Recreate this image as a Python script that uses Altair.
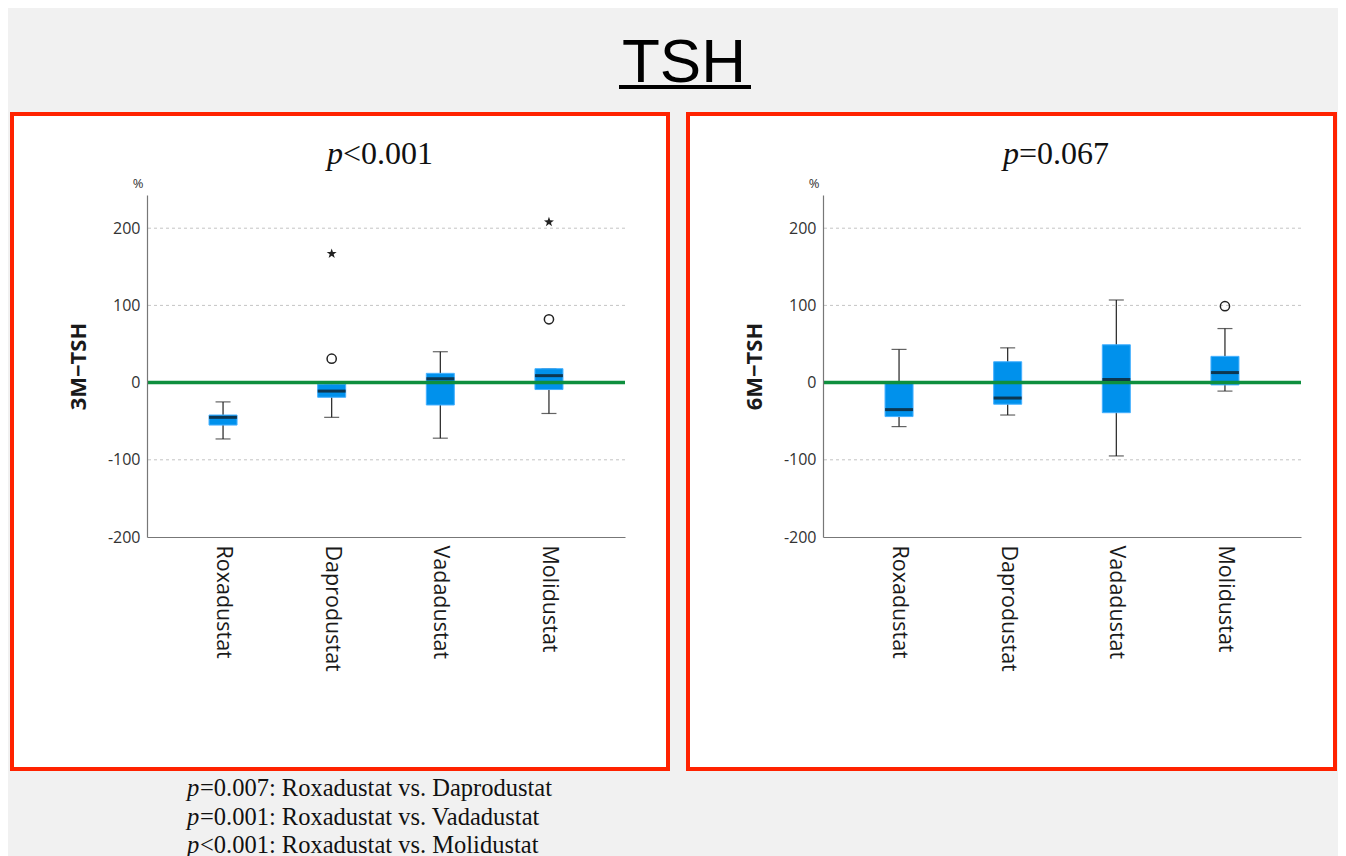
import altair as alt
import pandas as pd

# ---------------- data ----------------
groups = ["Roxadustat", "Daprodustat", "Vadadustat", "Molidustat"]

# 3-month change of TSH (%)
m3_low = [-73, -45, -72, -40]
m3_q1 = [-55, -19, -29, -9]
m3_median = [-45, -11, 5, 9]
m3_q3 = [-42, -2, 12, 18]
m3_high = [-25, -2, 40, 18]
m3_circle_group = ["Daprodustat", "Molidustat"]
m3_circle_value = [31, 82]
m3_star_group = ["Daprodustat", "Molidustat"]
m3_star_value = [167, 208]

# 6-month change of TSH (%)
m6_low = [-57, -42, -95, -11]
m6_q1 = [-44, -28, -39, -3]
m6_median = [-35, -20, 4, 13]
m6_q3 = [0, 27, 49, 34]
m6_high = [43, 45, 107, 70]
m6_circle_group = ["Molidustat"]
m6_circle_value = [99]
m6_star_group = []
m6_star_value = []

y_ticks = [-200, -100, 0, 100, 200]
grid_values = [-100, 100, 200]
reference_value = [0]
y_domain = [-200, 243]

main_title = "TSH"
y_titles = ["3M\u2212TSH", "6M\u2212TSH"]
panel_p = ["p", "p"]
panel_rest = ["<0.001", "=0.067"]
unit_label = "%"
footer_p = ["p", "p", "p"]
footer_rest = [
    "=0.007: Roxadustat vs. Daprodustat",
    "=0.001: Roxadustat vs. Vadadustat",
    "<0.001: Roxadustat vs. Molidustat",
]

# ---------------- style / layout ----------------
W, H = 478, 342
BG = "#f1f1f1"
RED = "#ff2200"
BLUE = "#0091ec"
GREEN = "#0e8f3e"
SANS = "Open Sans"
SERIF = "Liberation Serif"
STAR = ("M0,-1L0.235,-0.324L0.951,-0.309L0.380,0.124L0.588,0.809L0,0.4"
        "L-0.588,0.809L-0.380,0.124L-0.951,-0.309L-0.235,-0.324Z")

one = pd.DataFrame({"k": [0]})


def panel(low, q1, med, q3, high, cg, cv, sg, sv, ytitle, p_it, p_rest,
          frame_right, extras=None):
    box = pd.DataFrame({"group": groups, "low": low, "q1": q1,
                        "median": med, "q3": q3, "high": high})
    xs = alt.Scale(domain=groups, paddingInner=0, paddingOuter=0.2)
    ys = alt.Scale(domain=y_domain, nice=False, zero=False)
    xaxis = alt.Axis(labelAngle=90, labelAlign="left", labelBaseline="middle",
                     labelFont=SANS, labelFontSize=21.5, labelColor="#1a1a1a",
                     labelPadding=8, ticks=False, domainColor="#777",
                     domainWidth=1.2, grid=False, title=None, zindex=2)
    yaxis = alt.Axis(values=y_ticks, labelExpr="toString(datum.value)",
                     labelFont=SANS, labelFontSize=16, labelColor="#333",
                     labelPadding=7, ticks=False, domainColor="#777",
                     domainWidth=1.2, grid=False, title=ytitle,
                     titleFont=SANS, titleFontWeight="bold", titleFontSize=22,
                     titleColor="#1a1a1a", titlePadding=17, zindex=2)

    def X(f="group"):
        return alt.X(f + ":N", scale=xs, axis=xaxis, sort=groups)

    def Y(f):
        return alt.Y(f + ":Q", scale=ys, axis=yaxis)

    layers = []
    if extras is not None:
        layers += extras[0]
    # frame
    layers.append(alt.Chart(one).mark_rect(fill="white", stroke=RED, strokeWidth=4).encode(
        x=alt.value(-135), x2=alt.value(frame_right), y=alt.value(-81), y2=alt.value(574)))
    # grid
    layers.append(alt.Chart(pd.DataFrame({"v": grid_values})).mark_rule(
        color="#c4c4c4", strokeDash=[3, 3], strokeWidth=1).encode(y=Y("v")))
    base = alt.Chart(box)
    layers.append(base.mark_rule(color="#222", strokeWidth=1.2).encode(
        x=X(), y=Y("low"), y2="high"))
    layers.append(base.mark_tick(size=15, thickness=1.2, color="#222").encode(x=X(), y=Y("low")))
    layers.append(base.mark_tick(size=15, thickness=1.2, color="#222").encode(x=X(), y=Y("high")))
    layers.append(base.mark_bar(width=28, color=BLUE, stroke="#45b0ff", strokeWidth=1).encode(
        x=X(), y=Y("q1"), y2="q3"))
    layers.append(alt.Chart(pd.DataFrame({"v": reference_value})).mark_rule(
        color=GREEN, strokeWidth=3.5).encode(y=Y("v")))
    layers.append(base.mark_tick(size=28, thickness=3, color="#111").encode(x=X(), y=Y("median")))
    if cg:
        layers.append(alt.Chart(pd.DataFrame({"group": cg, "v": cv})).mark_point(
            shape="circle", size=85, filled=False, color="#222", strokeWidth=1.5, opacity=1).encode(
            x=X(), y=Y("v")))
    if sg:
        layers.append(alt.Chart(pd.DataFrame({"group": sg, "v": sv})).mark_point(
            shape=STAR, size=110, filled=True, color="#222", opacity=1).encode(
            x=X(), y=Y("v")))
    # unit label
    layers.append(alt.Chart(pd.DataFrame({"t": [unit_label]})).mark_text(
        font=SANS, fontSize=13, color="#333", align="center", baseline="middle").encode(
        text="t:N", x=alt.value(-9), y=alt.value(-11)))
    # panel p-value title
    layers.append(alt.Chart(pd.DataFrame({"t": [p_it]})).mark_text(
        font=SERIF, fontSize=32, fontStyle="italic", color="#111", align="left",
        baseline="alphabetic").encode(text="t:N", x=alt.value(180), y=alt.value(-31)))
    layers.append(alt.Chart(pd.DataFrame({"t": [p_rest]})).mark_text(
        font=SERIF, fontSize=32, color="#111", align="left",
        baseline="alphabetic").encode(text="t:N", x=alt.value(196), y=alt.value(-31)))
    if extras is not None:
        layers += extras[1]
    return alt.layer(*layers).properties(width=W, height=H)


# extras for the left panel: page background, main title, footer
under = [
    alt.Chart(one).mark_rect(fill=BG).encode(
        x=alt.value(-139), x2=alt.value(1191), y=alt.value(-187), y2=alt.value(661)),
]
over = [
    alt.Chart(pd.DataFrame({"t": [main_title]})).mark_text(
        font="Liberation Sans", fontSize=62, color="#000", align="center",
        baseline="alphabetic").encode(text="t:N", x=alt.value(537), y=alt.value(-113)),
    alt.Chart(one).mark_rule(color="#000", strokeWidth=4).encode(
        x=alt.value(472), x2=alt.value(604), y=alt.value(-108)),
]
footer_y = [601, 630, 658]
for i in range(3):
    over.append(alt.Chart(pd.DataFrame({"t": [footer_p[i]]})).mark_text(
        font=SERIF, fontSize=24.5, fontStyle="italic", color="#111", align="left",
        baseline="alphabetic").encode(text="t:N", x=alt.value(40), y=alt.value(footer_y[i])))
    over.append(alt.Chart(pd.DataFrame({"t": [footer_rest[i]]})).mark_text(
        font=SERIF, fontSize=24.5, color="#111", align="left",
        baseline="alphabetic").encode(text="t:N", x=alt.value(53), y=alt.value(footer_y[i])))

left = panel(m3_low, m3_q1, m3_median, m3_q3, m3_high,
             m3_circle_group, m3_circle_value, m3_star_group, m3_star_value,
             y_titles[0], panel_p[0], panel_rest[0], 521, extras=(under, over))
right = panel(m6_low, m6_q1, m6_median, m6_q3, m6_high,
              m6_circle_group, m6_circle_value, m6_star_group, m6_star_value,
              y_titles[1], panel_p[1], panel_rest[1], 512)

chart = alt.hconcat(left, right, spacing=198, bounds="flush").properties(
    padding=0, background=BG
).configure_view(stroke=None)

chart.save("out.html", embed_options={"renderer": "svg", "actions": False})
